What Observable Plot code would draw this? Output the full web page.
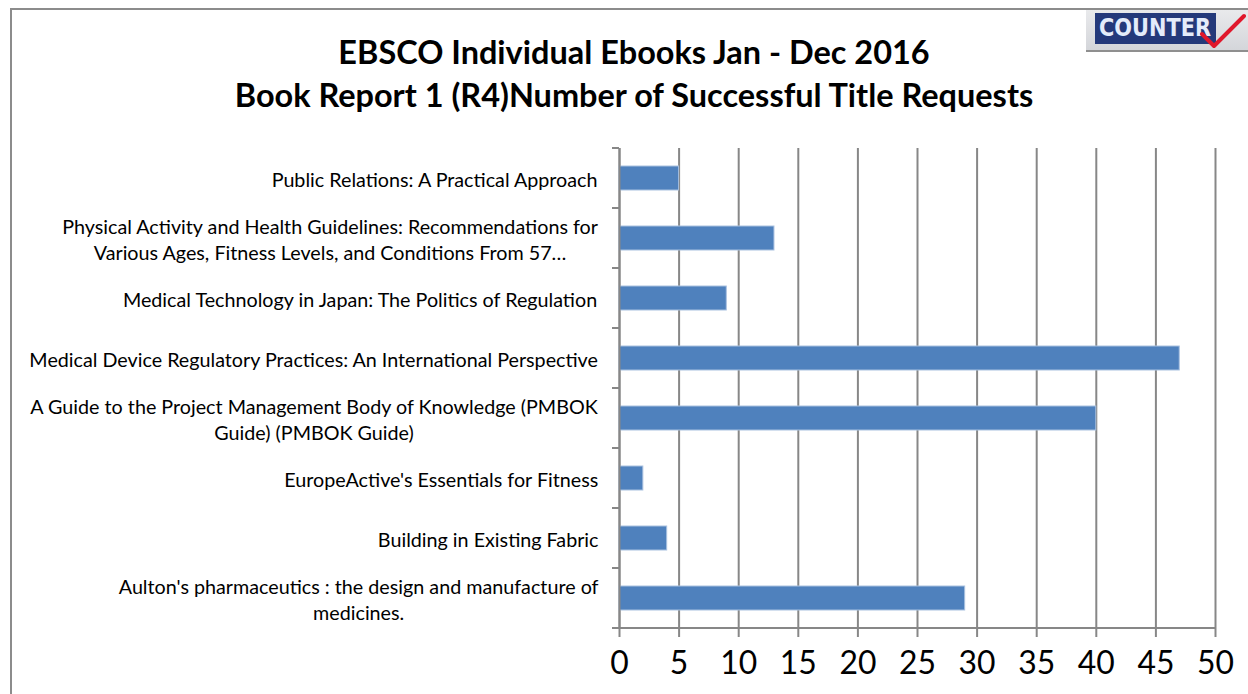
<!DOCTYPE html>
<html>
<head>
<meta charset="utf-8">
<script src="https://cdn.jsdelivr.net/npm/d3@7"></script>
<script src="https://cdn.jsdelivr.net/npm/@observablehq/plot@0.6"></script>
<style>
  html, body { margin: 0; padding: 0; background: #fff; }
  #wrap { position: relative; width: 1248px; height: 694px; overflow: hidden; font-family: Lato, "Open Sans", sans-serif; }
  #border { position: absolute; left: 10px; top: 8px; width: 1270px; height: 720px; border: 2px solid #8c8c8c; box-sizing: border-box; }
  .title { position: absolute; left: 0; width: 1268px; text-align: center; font-weight: bold; color: #000; white-space: nowrap; line-height: 1; }
  #logo { position: absolute; left: 1086px; top: 10px; width: 170px; height: 42px; background: linear-gradient(#e9eaec, #d4d6da); border-bottom: 2px solid #8f8f8f; box-sizing: border-box; }
  #logo .box { position: absolute; left: 9px; top: 3px; width: 121px; height: 31px; background: #24397a; overflow: hidden; }
  #logo .word { position: absolute; left: 4px; top: 0; color: #e4ecfa; font-family: "DejaVu Sans Condensed", "Liberation Sans", sans-serif; font-weight: bold; font-size: 24px; line-height: 31px; white-space: nowrap; transform-origin: 0 50%; }
  #logo svg { position: absolute; left: 112px; top: 2px; }
  #chart { position: absolute; left: 0; top: 0; }
</style>
</head>
<body>
<div id="wrap">
  <div id="border"></div>
  <div id="t1" class="title"></div>
  <div id="t2" class="title"></div>
  <div id="logo"><div class="box"><span class="word" id="logoword">COUNTER</span></div>
    <svg width="48" height="40" viewBox="0 0 48 40"><path d="M4 22 L16 34 L46 4" fill="none" stroke="#e0182c" stroke-width="4" stroke-linecap="round" stroke-linejoin="round"/></svg>
  </div>
  <div id="chart"></div>
</div>
<script>
// ---- data ----
const titleLines = [
  "EBSCO Individual Ebooks Jan - Dec 2016",
  "Book Report 1 (R4)Number of Successful Title Requests"
];
const bookTitles = [
  "Public Relations: A Practical Approach",
  "Physical Activity and Health Guidelines: Recommendations for\nVarious Ages, Fitness Levels, and Conditions From 57…",
  "Medical Technology in Japan: The Politics of Regulation",
  "Medical Device Regulatory Practices: An International Perspective",
  "A Guide to the Project Management Body of Knowledge (PMBOK\nGuide) (PMBOK Guide)",
  "EuropeActive's Essentials for Fitness",
  "Building in Existing Fabric",
  "Aulton's pharmaceutics : the design and manufacture of\nmedicines."
];
const requests = [5, 13, 9, 47, 40, 2, 4, 29];
const xTicks = [0, 5, 10, 15, 20, 25, 30, 35, 40, 45, 50];

const data = bookTitles.map((t, i) => ({title: t, value: requests[i]}));

// ---- styles ----
const BAR = "#4f81bd";
const GRID = "#878787";
const FONT = "Lato";

const canvas = document.createElement("canvas");
const ctx = canvas.getContext("2d");
function measure(text, size, weight = "normal", family = FONT) {
  ctx.font = `${weight} ${size}px ${family}`;
  return ctx.measureText(text).width;
}
// fit font sizes to the reference's text widths
const labelSize = 18 * 537 / measure("Physical Activity and Health Guidelines: Recommendations for", 18);
const titleSize = 28 * 801 / measure(titleLines[1], 28, "bold");
const tickSize = 30 * 37 / measure("50", 30);

const t1 = document.getElementById("t1"), t2 = document.getElementById("t2");
t1.textContent = titleLines[0]; t2.textContent = titleLines[1];
for (const el of [t1, t2]) el.style.fontSize = titleSize + "px";
t1.style.top = (52 - titleSize / 2) + "px";
t2.style.top = (95 - titleSize / 2) + "px";

// squeeze the logo word into its box
const lw = document.getElementById("logoword");
const lwWidth = lw.getBoundingClientRect().width;
lw.style.transform = `scaleX(${112 / lwWidth})`;

// custom mark: category boundary ticks on the y axis and the bottom axis line
function categoryTicks(index, scales, values, dims) {
  const y = scales.y, x = scales.x;
  const dom = y.domain ? y.domain() : bookTitles;
  const bw = y.bandwidth ? y.bandwidth() : scales.scales.y.bandwidth;
  const step = y.step ? y.step() : scales.scales.y.step;
  const off = (step - bw) / 2;
  const ys = dom.map(d => y(d) - off);
  ys.push(y(dom[dom.length - 1]) + bw + off);
  const x0 = x(0);
  const g = d3.create("svg:g").attr("stroke", GRID).attr("stroke-width", 2);
  for (const v of ys) g.append("line").attr("x1", x0 - 7).attr("x2", x0).attr("y1", v).attr("y2", v);
  const yb = ys[ys.length - 1];
  g.append("line").attr("x1", x0).attr("x2", x(xTicks[xTicks.length - 1])).attr("y1", yb).attr("y2", yb);
  return g.node();
}

const gap = 21;
const labelMarks = bookTitles.map(t => {
  const w = d3.max(t.split("\n"), l => measure(l, labelSize));
  return Plot.text([t], {
    y: d => d, text: d => d,
    frameAnchor: "left", textAnchor: "middle",
    dx: -(gap + w / 2),
    fontSize: labelSize, lineHeight: 26 / labelSize,
    fill: "#000"
  });
});

const chart = Plot.plot({
  width: 1248,
  height: 694,
  marginLeft: 619,
  marginRight: 33,
  marginTop: 148,
  marginBottom: 66,
  style: {background: "transparent", fontFamily: FONT, color: "#000"},
  x: {domain: [0, 50], ticks: xTicks, label: null},
  y: {domain: bookTitles, paddingInner: 0.6, paddingOuter: 0.3, label: null, axis: null},
  marks: [
    Plot.gridX(xTicks, {stroke: GRID, strokeWidth: 2, strokeOpacity: 1}),
    Plot.barX(data, {x: "value", y: "title", fill: BAR, stroke: "#a9c1e0", strokeWidth: 1}),
    Plot.ruleX([0], {stroke: GRID, strokeWidth: 2}),
    categoryTicks,
    Plot.axisX(xTicks, {
      anchor: "bottom", tickSize: 9, tickPadding: 14,
      stroke: GRID, strokeWidth: 2, strokeOpacity: 1,
      fontSize: tickSize, fill: "#000", label: null
    }),
    ...labelMarks
  ]
});
document.getElementById("chart").appendChild(chart);
</script>
</body>
</html>
